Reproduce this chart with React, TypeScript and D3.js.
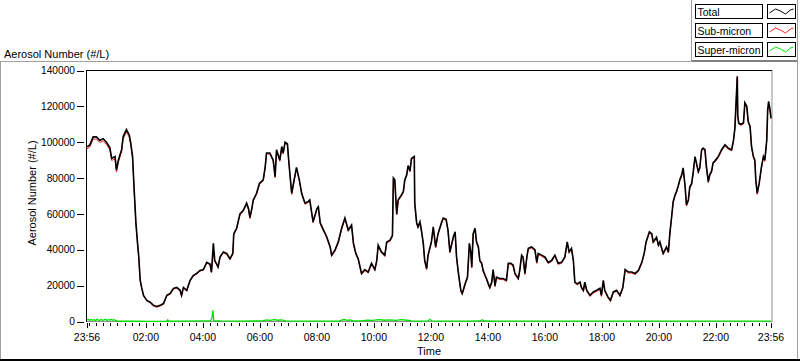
import React from "react";
import * as d3 from "d3";

// minutes after 23:56 (start of record)
const minutes = [0,6,13,20,27,34,41,48,52,59,62,66,73,76,83,89,92,96,99,103,106,109,112,115,119,126,133,140,147,154,161,168,175,182,189,196,199,203,210,217,224,231,238,245,252,259,262,266,269,273,276,280,287,294,301,307,309,315,319,322,329,336,340,343,347,350,357,363,371,375,378,385,392,396,399,406,410,413,417,422,424,427,431,434,441,447,452,459,466,469,476,484,487,491,498,505,512,515,522,529,536,543,550,557,561,566,571,578,585,592,599,606,610,613,620,627,631,638,643,645,648,652,655,662,666,669,673,676,680,683,689,690,694,697,701,704,708,711,715,718,725,729,734,739,746,750,756,760,764,771,775,778,782,787,790,796,801,805,808,810,813,817,820,824,827,831,834,838,841,845,848,852,855,859,862,869,876,883,887,892,897,901,908,911,915,918,922,926,929,936,943,947,950,957,964,971,978,985,992,999,1006,1011,1015,1020,1024,1027,1032,1038,1041,1045,1048,1052,1059,1066,1073,1080,1083,1087,1090,1097,1102,1108,1115,1122,1128,1133,1140,1147,1154,1161,1168,1173,1177,1184,1189,1192,1199,1203,1206,1213,1220,1224,1227,1231,1234,1238,1241,1245,1248,1252,1255,1259,1262,1266,1269,1273,1276,1280,1283,1287,1290,1294,1297,1301,1304,1308,1311,1315,1318,1322,1329,1336,1343,1350,1357,1361,1364,1368,1369,1370,1372,1376,1382,1385,1389,1392,1396,1399,1403,1406,1408,1411,1415,1420,1424,1427,1431,1433,1435,1438,1440];

const total = [97400,98500,103000,103000,101000,102000,100000,97000,91000,92000,84500,90000,96000,103000,107000,104000,99700,92000,75000,55000,45000,36000,23000,19000,14600,11800,10800,9000,8400,9000,10000,14600,15600,18500,19000,17400,14600,19000,17400,23000,25800,26800,28500,29000,33000,32000,27600,43600,34000,32000,30400,36000,38800,38000,35000,38000,49000,52000,56600,60000,62000,66000,63000,58000,63000,67800,71500,77000,79000,86000,94000,94000,90000,80800,95800,90000,97600,94000,100000,99000,92000,82800,71500,76000,86000,79000,71500,66000,67000,67800,55600,63000,64000,55000,51000,47000,41600,37000,39800,44400,52000,57700,51000,53800,43600,38000,35000,26800,29000,27600,32500,29000,34000,42600,38800,37000,44400,45400,48000,80000,79000,60000,67800,70600,72500,79000,81800,87000,84000,91000,92000,66000,55000,52800,55600,51000,43600,34000,29500,37000,44400,52800,41600,49000,55000,57700,57000,51000,38800,47000,50000,36000,26800,17400,15600,21000,24800,43600,38800,30400,49000,52000,44400,41600,34000,32500,28500,25800,24000,21000,19000,22000,29000,20000,24800,24000,24000,23000,32500,32500,31500,26800,24000,28500,37000,36000,26800,36000,40800,41600,40000,33000,38000,37000,36000,33000,34000,37000,32500,33000,36000,44400,38800,40800,34000,22000,21000,22000,19000,17400,22000,17400,14600,16500,17400,18500,14600,23000,17400,13600,11800,16500,17400,14600,19000,29000,27600,27600,26800,28500,33000,38000,44400,50000,49000,44400,47000,42600,44400,38000,41600,38800,49000,59000,66800,70600,72400,76000,79000,81800,85700,76000,65000,67800,75000,77000,82800,92000,88500,83600,85700,95800,96700,95800,86400,78000,81800,84000,88500,89600,92000,95800,98600,96700,95800,101000,108000,131000,136800,115000,110700,110000,110700,122000,120000,111600,108800,97600,92000,90000,79000,71500,77000,86400,92000,90000,101000,118000,122800,118000,113500];

const subMicron = [96200,97300,101800,101800,99800,100800,98800,95800,89800,90800,83300,88800,94800,101800,105800,102800,98500,90800,74200,54300,44400,35500,22600,18500,14200,11400,10400,8600,8000,8600,9600,14200,15200,18100,18600,17000,14200,18600,17000,22600,25400,26400,28100,28600,32600,31600,27200,37800,33600,31600,30000,35600,38200,37400,34400,37400,48400,51400,56000,59400,61400,65400,62400,57400,62400,67200,70900,76400,78400,85400,93400,93400,89400,80200,95200,89400,97000,93400,99400,98400,91400,82200,70900,75400,85400,78400,70900,65400,66400,67200,55000,62400,63400,54400,50400,46400,41000,36400,39200,43800,51400,57100,50400,53200,43000,37400,34400,26200,28400,27000,31900,28400,33400,42000,38200,36400,43800,44800,47400,79400,78400,59400,67200,70000,71900,78400,81200,86400,83400,90400,91400,65400,54400,52200,55000,50400,43000,33400,28900,36400,43800,52200,41000,48400,54400,57100,56400,50400,38200,46400,49400,35400,26200,16800,15000,20400,24200,43000,38200,29800,48400,51400,43800,41000,33400,31900,27900,25200,23400,20400,18400,21400,28400,19400,24200,23400,23400,22400,31900,31900,30900,26200,23400,27900,36400,35400,26200,35400,40200,41000,39400,32400,37400,36400,35400,32400,33400,36400,31900,32400,35400,43800,38200,40200,33400,21400,20400,21400,18400,16800,21400,16800,14000,15900,16800,17900,14000,22400,16800,13000,11200,15900,16800,14000,18400,28400,27000,27000,26200,27900,32400,37400,43800,49400,48400,43800,46400,42000,43800,37400,41000,38200,48400,58400,66200,70000,71800,75400,78400,81200,85100,75400,64400,67200,74400,76400,82200,91400,87900,83000,85100,95200,96100,95200,85800,77400,81200,83400,87900,89000,91400,95200,98000,96100,95200,100400,107400,130400,136200,114400,110100,109400,110100,121400,119400,111000,108200,97000,91400,89400,78400,70900,76400,85800,91400,89400,100400,117400,122200,117400,112900];

const superMinutes = [0,3,6,9,12,15,18,21,24,27,30,33,36,39,42,45,48,51,54,57,60,64,70,80,100,130,168,170,172,200,240,260,263,265,267,280,320,370,378,386,394,402,410,418,440,480,530,536,542,548,554,560,578,590,602,614,626,638,650,662,674,684,700,718,722,726,740,800,828,832,836,860,950,1050,1150,1250,1350,1440];
const superMicron = [900,1200,600,1100,700,1000,500,1200,800,600,1100,700,900,1200,600,1000,800,1200,700,1000,600,300,200,150,150,100,150,900,150,200,300,400,1800,6200,400,300,250,300,900,600,1000,700,900,400,200,250,250,800,1100,600,900,300,300,800,600,1000,700,900,600,1000,700,300,250,300,1200,300,250,250,300,1000,300,250,200,200,250,250,250,250];

const yTicks = [0,20000,40000,60000,80000,100000,120000,140000];
const xTickLabels = ["23:56","02:00","04:00","06:00","08:00","10:00","12:00","14:00","16:00","18:00","20:00","22:00","23:56"];
const xTickMinutes = [0,124,244,364,484,604,724,844,964,1084,1204,1324,1440];

const legendNames = ["Total","Sub-micron","Super-micron"];
const legendColors = ["#000000","#ff2020","#00e000"];

const FONT = "'Liberation Sans', Arial, sans-serif";

export default function App() {
  const W = 800, H = 361;
  const x = d3.scaleLinear().domain([0, 1440]).range([87, 771]);
  const y = d3.scaleLinear().domain([0, 140000]).range([321.5, 70.5]);

  const line = d3.line<[number, number]>().x(d => x(d[0])).y(d => y(d[1]));
  const totalPath = line(minutes.map((m, i) => [m, total[i]]) as [number, number][]) || "";
  const subPath = line(minutes.map((m, i) => [m, subMicron[i]]) as [number, number][]) || "";
  const superPath = line(superMinutes.map((m, i) => [m, superMicron[i]]) as [number, number][]) || "";

  const minorTicks: number[] = [0];
  for (let m = 4; m <= 1440; m += 15) minorTicks.push(m);

  const swatch = (x0: number, y0: number) =>
    [[2, 9], [8, 5], [13, 7], [18, 10], [23, 6], [26, 5]].map(p => `${x0 + p[0]},${y0 + p[1]}`).join(" ");

  return (
    <svg width={W} height={H} style={{ position: "absolute", left: 0, top: 0, background: "#fff" }} fontFamily={FONT}>
      <rect x={0} y={0} width={W} height={H} fill="#fff" />
      {/* panel frame */}
      <line x1={0} y1={61.5} x2={692} y2={61.5} stroke="#a0a0a0" />
      <line x1={692} y1={61} x2={798} y2={61} stroke="#808080" strokeWidth={2} />
      <line x1={691.5} y1={0} x2={691.5} y2={61} stroke="#a0a0a0" />
      <line x1={797.5} y1={0} x2={797.5} y2={361} stroke="#a0a0a0" />
      <line x1={0.5} y1={61} x2={0.5} y2={361} stroke="#a0a0a0" />
      <line x1={0} y1={360} x2={800} y2={360} stroke="#000" strokeWidth={2} />

      {/* legend */}
      {legendNames.map((name, i) => {
        const y0 = 4 + i * 19;
        return (
          <g key={name}>
            <rect x={695.5} y={y0 + 0.5} width={67} height={14} fill="#fff" stroke="#000" />
            <text x={697.5} y={y0 + 11.5} fontSize={10.5} fill="#000">{name}</text>
            <rect x={767.5} y={y0 + 0.5} width={28} height={14} fill="#fff" stroke="#000" />
            <polyline points={swatch(767.5, y0)} fill="none" stroke={legendColors[i]} strokeWidth={1} />
          </g>
        );
      })}

      {/* chart title */}
      <text x={4} y={58} fontSize={11} fill="#000">Aerosol Number (#/L)</text>

      {/* plot area */}
      <rect x={86.5} y={70.5} width={685.5} height={251} fill="#fff" />
      <line x1={772} y1={70} x2={772} y2={322} stroke="#909090" />
      <line x1={86} y1={321.5} x2={772} y2={321.5} stroke="#909090" />

      <path d={subPath} fill="none" stroke="#ff2020" strokeWidth={1} />
      <path d={totalPath} fill="none" stroke="#000" strokeWidth={1.6} />
      <path d={superPath} fill="none" stroke="#00e000" strokeWidth={1.3} />

      <line x1={86} y1={70.5} x2={772} y2={70.5} stroke="#000" />
      <line x1={86.5} y1={70} x2={86.5} y2={322} stroke="#000" />

      {/* y axis */}
      {yTicks.map(v => (
        <g key={v}>
          <line x1={77} x2={84} y1={Math.round(y(v)) + 0.5} y2={Math.round(y(v)) + 0.5} stroke="#000" />
          <text x={75} y={y(v)} dy="0.36em" textAnchor="end" fontSize={10.2} fill="#000">{v}</text>
        </g>
      ))}
      <text transform="translate(36,193) rotate(-90)" textAnchor="middle" fontSize={11} fill="#000">Aerosol Number (#/L)</text>

      {/* x axis */}
      {minorTicks.map(m => (
        <line key={"m" + m} x1={Math.round(x(m)) + 0.5} x2={Math.round(x(m)) + 0.5} y1={323} y2={326} stroke="#000" />
      ))}
      {xTickMinutes.map((m, i) => (
        <g key={"t" + i}>
          <line x1={Math.round(x(m)) + 0.5} x2={Math.round(x(m)) + 0.5} y1={323} y2={328} stroke="#000" />
          <text x={x(m)} y={341} textAnchor="middle" fontSize={10.5} fill="#000">{xTickLabels[i]}</text>
        </g>
      ))}
      <text x={429} y={355} textAnchor="middle" fontSize={11} fill="#000">Time</text>
    </svg>
  );
}
